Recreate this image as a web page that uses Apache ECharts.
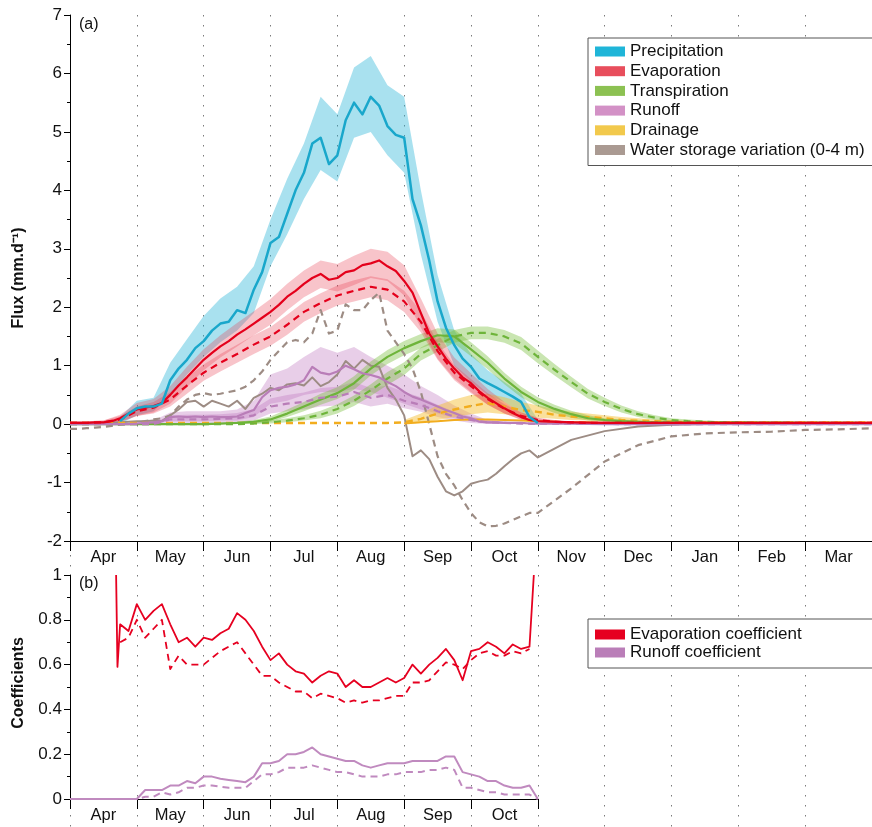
<!DOCTYPE html>
<html><head><meta charset="utf-8">
<script src="https://cdn.jsdelivr.net/npm/echarts@6/dist/echarts.min.js"></script>
<style>html,body{margin:0;padding:0;background:#fff}#c{width:872px;height:827px}</style>
</head><body><div id="c"></div>
<script>
// ---------- categories / labels ----------
const monthLabels = ['Apr','May','Jun','Jul','Aug','Sep','Oct','Nov','Dec','Jan','Feb','Mar'];
const coefMonthLabels = ['Apr','May','Jun','Jul','Aug','Sep','Oct'];
const topLegendNames = ['Precipitation','Evaporation','Transpiration','Runoff','Drainage','Water storage variation (0-4 m)'];
const bottomLegendNames = ['Evaporation coefficient','Runoff coefficient'];

// ---------- x positions (months since 1 April) ----------
const xA = [0,0.125,0.25,0.375,0.5,0.625,0.75,0.875,
 1,1.125,1.25,1.375,1.5,1.625,1.75,1.875,
 2,2.125,2.25,2.375,2.5,2.625,2.75,2.875,
 3,3.125,3.25,3.375,3.5,3.625,3.75,3.875,
 4,4.125,4.25,4.375,4.5,4.625,4.75,4.875,
 5,5.125,5.25,5.375,5.5,5.625,5.75,5.875,
 6,6.125,6.25,6.375,6.5,6.625,6.75,6.875,
 7,7.5,8,8.5,9,9.5,10,10.5,11,11.5,12];
const xB = [0,0.25,0.5,0.75,1,1.25,1.5,1.75,
 2,2.25,2.5,2.75,3,3.25,3.5,3.75,
 4,4.25,4.5,4.75,5,5.25,5.5,5.75,
 6,6.25,6.5,6.75,7,7.25,7.5,7.75,
 8,8.25,8.5,8.75,9,9.25,9.5,9.75,
 10,10.25,10.5,10.75,11,11.25,11.5,11.75,
 12];
const xC = [0.69,0.71,0.75,0.875,
 1,1.125,1.25,1.375,1.5,1.625,1.75,1.875,
 2,2.125,2.25,2.375,2.5,2.625,2.75,2.875,
 3,3.125,3.25,3.375,3.5,3.625,3.75,3.875,
 4,4.125,4.25,4.375,4.5,4.625,4.75,4.875,
 5,5.125,5.25,5.375,5.5,5.625,5.75,5.875,
 6,6.125,6.25,6.375,6.5,6.625,6.75,6.875,
 6.94];
const xR = [0,0.125,0.25,0.375,0.5,0.625,0.75,0.875,
 1,1.125,1.25,1.375,1.5,1.625,1.75,1.875,
 2,2.125,2.25,2.375,2.5,2.625,2.75,2.875,
 3,3.125,3.25,3.375,3.5,3.625,3.75,3.875,
 4,4.125,4.25,4.375,4.5,4.625,4.75,4.875,
 5,5.125,5.25,5.375,5.5,5.625,5.75,5.875,
 6,6.125,6.25,6.375,6.5,6.625,6.75,6.875,
 7];

// ---------- panel (a): fluxes, mm/d ----------
const precipMean = [null,null,null,null,null,null,0.05,0.18,
 0.27,0.3,0.3,0.35,0.75,0.95,1.1,1.3,
 1.42,1.6,1.72,1.75,1.95,1.9,2.3,2.6,
 3.1,3.2,3.6,4.0,4.3,4.8,4.9,4.45,
 4.6,5.2,5.5,5.3,5.6,5.45,5.1,4.95,
 4.9,3.85,3.4,2.8,2.1,1.65,1.35,1.12,
 0.98,0.78,0.7,0.63,0.55,0.47,0.38,0.12,
 0.02,null,null,null,null,null,null,null,null,null,null];
const precipLow = [null,null,null,0,0.15,0.22,0.5,0.85,
 1.15,1.4,1.6,1.9,2.7,3.25,3.85,4.35,
 4.15,4.9,5.0,4.6,4.3,2.9,1.75,1.0,
 0.72,0.5,0.38,0.2,0,null,null,null,
 null,null,null,null,null,null,null,null,
 null,null,null,null,null,null,null,null,null];
const precipHigh = [null,null,null,0.12,0.4,0.45,1.05,1.45,
 1.85,2.15,2.35,2.7,3.5,4.2,4.8,5.6,
 5.3,6.1,6.3,5.8,5.6,4.0,2.55,1.6,
 1.2,0.92,0.72,0.52,0.08,null,null,null,
 null,null,null,null,null,null,null,null,
 null,null,null,null,null,null,null,null,null];

const evapMean = [0.02,0.02,0.02,0.03,0.03,0.05,0.1,0.18,
 0.25,0.28,0.31,0.36,0.5,0.66,0.8,0.95,
 1.1,1.22,1.33,1.42,1.53,1.62,1.72,1.82,
 1.92,2.04,2.18,2.28,2.4,2.5,2.57,2.47,
 2.5,2.6,2.63,2.72,2.75,2.8,2.7,2.62,
 2.45,2.25,1.9,1.55,1.33,1.12,0.95,0.8,
 0.7,0.56,0.45,0.36,0.27,0.19,0.12,0.07,
 0.05,0.03,0.02,0.02,0.02,0.02,0.02,0.02,0.02,0.02,0.02];
const evapLow = [0,0,0,0.04,0.14,0.2,0.35,0.63,
 0.92,1.14,1.33,1.52,1.7,1.95,2.17,2.33,
 2.27,2.38,2.5,2.45,2.2,1.65,1.12,0.78,
 0.55,0.33,0.18,0.07,0.03,0.02,0.01,0.01,
 0.01,0.01,0.01,0.01,0.01,0.01,0.01,0.01,
 0.01,0.01,0.01,0.01,0.01,0.01,0.01,0.01,0.01];
const evapHigh = [0.05,0.05,0.06,0.16,0.36,0.43,0.65,0.98,
 1.28,1.52,1.73,1.93,2.14,2.4,2.63,2.8,
 2.74,2.88,3.0,2.95,2.72,2.15,1.55,1.14,
 0.87,0.6,0.38,0.2,0.1,0.06,0.04,0.03,
 0.03,0.03,0.03,0.03,0.03,0.03,0.03,0.03,
 0.03,0.03,0.03,0.03,0.03,0.03,0.03,0.03,0.03];
const evapScenario = [0.02,0.02,0.03,0.08,0.22,0.28,0.42,0.66,
 0.88,1.05,1.2,1.36,1.5,1.7,1.92,2.07,
 2.2,2.28,2.35,2.3,2.1,1.75,1.25,0.88,
 0.65,0.43,0.26,0.14,0.07,0.04,0.03,0.02,
 0.02,0.02,0.02,0.02,0.02,0.02,0.02,0.02,
 0.02,0.02,0.02,0.02,0.02,0.02,0.02,0.02,0.02];
const evapScenarioLow = [0,0,0,0.03,0.14,0.18,0.3,0.52,
 0.74,0.9,1.05,1.2,1.34,1.53,1.75,1.9,
 2.03,2.1,2.17,2.12,1.92,1.57,1.1,0.75,
 0.53,0.33,0.18,0.08,0.03,0.01,0.01,0.01,
 0.01,0.01,0.01,0.01,0.01,0.01,0.01,0.01,
 0.01,0.01,0.01,0.01,0.01,0.01,0.01,0.01,0.01];
const evapScenarioHigh = [0.05,0.05,0.06,0.14,0.3,0.38,0.55,0.8,
 1.02,1.2,1.36,1.52,1.66,1.87,2.09,2.24,
 2.37,2.46,2.53,2.48,2.28,1.93,1.4,1.01,
 0.77,0.53,0.34,0.2,0.11,0.07,0.05,0.04,
 0.04,0.04,0.04,0.04,0.04,0.04,0.04,0.04,
 0.04,0.04,0.04,0.04,0.04,0.04,0.04,0.04,0.04];

const transpMean = [0,0,0,0,0,0,0,0,
 0,0.01,0.02,0.04,0.08,0.18,0.3,0.42,
 0.53,0.7,0.95,1.15,1.3,1.42,1.52,1.5,
 1.28,1.05,0.78,0.55,0.38,0.26,0.17,0.1,
 0.07,0.05,0.04,0.03,0.03,0.02,0.02,0.02,
 0.02,0.02,0.02,0.02,0.01,0.01,0.01,0.01,0.01];
const transpLow = [0,0,0,0,0,0,0,0,
 0,0,0,0.01,0.04,0.12,0.22,0.33,
 0.43,0.59,0.83,1.03,1.18,1.3,1.4,1.38,
 1.16,0.94,0.68,0.46,0.3,0.19,0.11,0.06,
 0.04,0.03,0.02,0.01,0.01,0.01,0.01,0.01,
 0.01,0.01,0.01,0.01,0,0,0,0,0];
const transpHigh = [0,0,0,0,0,0,0,0,
 0.01,0.02,0.04,0.07,0.13,0.25,0.38,0.52,
 0.63,0.82,1.07,1.27,1.42,1.54,1.64,1.62,
 1.4,1.16,0.88,0.64,0.46,0.33,0.23,0.15,
 0.1,0.08,0.06,0.05,0.05,0.04,0.04,0.04,
 0.04,0.04,0.03,0.03,0.03,0.03,0.03,0.03,0.03];
const transpScenario = [0,0,0,0,0,0,0,0,
 0,0,0,0.01,0.03,0.06,0.1,0.16,
 0.26,0.4,0.58,0.78,0.95,1.2,1.35,1.5,
 1.56,1.56,1.5,1.38,1.15,0.93,0.72,0.52,
 0.38,0.26,0.17,0.11,0.07,0.05,0.04,0.03,
 0.03,0.02,0.02,0.02,0.02,0.02,0.02,0.02,0.01];
const transpScenarioLow = [0,0,0,0,0,0,0,0,
 0,0,0,0,0.01,0.03,0.06,0.1,
 0.18,0.31,0.48,0.67,0.84,1.09,1.24,1.39,
 1.45,1.45,1.39,1.27,1.04,0.83,0.63,0.44,
 0.31,0.2,0.12,0.07,0.04,0.03,0.02,0.01,
 0.01,0.01,0.01,0.01,0.01,0.01,0.01,0.01,0];
const transpScenarioHigh = [0,0,0,0,0,0,0,0,
 0.01,0.01,0.02,0.03,0.06,0.1,0.15,0.23,
 0.34,0.49,0.68,0.89,1.06,1.31,1.46,1.61,
 1.67,1.67,1.61,1.49,1.26,1.03,0.81,0.6,
 0.45,0.32,0.22,0.15,0.1,0.08,0.06,0.05,
 0.05,0.04,0.04,0.04,0.04,0.04,0.03,0.03,0.03];

const runoffMean = [0,0,0,0,0,0,0,0,
 0.01,0.02,0.03,0.05,0.12,0.13,0.12,0.13,
 0.12,0.13,0.12,0.12,0.13,0.19,0.24,0.46,
 0.58,0.62,0.64,0.68,0.75,0.98,0.88,0.85,
 0.9,1.0,0.94,0.87,0.84,0.8,0.72,0.65,
 0.55,0.47,0.42,0.36,0.3,0.24,0.19,0.13,
 0.1,0.04,0.03,0.03,0.02,0.02,0.02,0.01,
 0.01,0.01,0,0,0,0,0,0,0,0,0];
const runoffLow = [0,0,0,0,0,0.01,0.05,0.05,
 0.05,0.06,0.06,0.12,0.35,0.4,0.5,0.55,
 0.55,0.6,0.55,0.45,0.35,0.25,0.18,0.1,
 0.05,0.01,0,0,0,0,0,0,
 0,0,0,0,0,0,0,0,
 0,0,0,0,0,0,0,0,0];
const runoffHigh = [0.02,0.02,0.02,0.02,0.03,0.06,0.2,0.22,
 0.22,0.22,0.25,0.4,0.85,0.95,1.15,1.32,
 1.22,1.32,1.15,1.0,0.85,0.65,0.5,0.32,
 0.18,0.07,0.04,0.02,0.02,0.02,0.02,0.02,
 0.02,0.02,0.02,0.02,0.02,0.02,0.02,0.02,
 0.02,0.02,0.02,0.02,0.02,0.02,0.02,0.02,0.02];
const runoffScenario = [0,0,0,0,0,0,0.08,0.08,
 0.08,0.09,0.1,0.15,0.3,0.35,0.38,0.45,
 0.47,0.55,0.45,0.5,0.4,0.33,0.22,0.13,
 0.07,0.03,0.02,0.01,0.01,0.01,0.01,0.01,
 0.01,0,0,0,0,0,0,0,
 0,0,0,0,0,0,0,0,0];
const runoffScenarioLow = [0,0,0,0,0,0,0.02,0.02,
 0.02,0.02,0.03,0.06,0.18,0.22,0.25,0.3,
 0.32,0.38,0.3,0.35,0.27,0.21,0.12,0.06,
 0.02,0,0,0,0,0,0,0,
 0,0,0,0,0,0,0,0,
 0,0,0,0,0,0,0,0,0];
const runoffScenarioHigh = [0.01,0.01,0.01,0.01,0.01,0.02,0.15,0.16,
 0.16,0.17,0.19,0.26,0.44,0.5,0.54,0.62,
 0.64,0.72,0.62,0.66,0.55,0.46,0.33,0.21,
 0.13,0.07,0.04,0.02,0.02,0.02,0.02,0.02,
 0.02,0.01,0.01,0.01,0.01,0.01,0.01,0.01,
 0.01,0.01,0.01,0.01,0.01,0.01,0.01,0.01,0.01];

const drainageMean = [null,null,null,null,null,null,null,null,
 null,null,null,null,null,null,null,null,
 null,null,null,null,0.01,0.03,0.05,0.07,
 0.08,0.08,0.07,0.06,0.05,0.04,0.03,0.03,
 0.02,0.02,0.02,0.02,0.02,0.02,0.02,0.02,
 0.02,0.02,0.02,0.02,0.02,0.02,0.02,0.02,0.02];
const drainageScenario = [0.02,0.02,0.02,0.02,0.02,0.02,0.02,0.02,
 0.02,0.02,0.02,0.02,0.02,0.02,0.02,0.02,
 0.02,0.02,0.02,0.02,0.03,0.09,0.18,0.25,
 0.31,0.36,0.3,0.24,0.21,0.16,0.13,0.12,
 0.1,0.07,0.06,0.05,0.04,0.03,0.03,0.03,
 0.03,0.03,0.03,0.03,0.03,0.03,0.03,0.03,0.03];
const drainageLow = [null,null,null,null,null,null,null,null,
 null,null,null,null,null,null,null,null,
 null,null,null,null,0,0.02,0.07,0.12,
 0.17,0.2,0.17,0.13,0.11,0.09,0.07,0.06,
 0.05,0.04,0.03,0.03,0.02,0.02,0.02,0.02,
 0.02,0.02,0.02,0.02,0.02,0.02,0.02,0.02,0.02];
const drainageHigh = [null,null,null,null,null,null,null,null,
 null,null,null,null,null,null,null,null,
 null,null,null,null,0.07,0.18,0.32,0.42,
 0.5,0.52,0.46,0.38,0.32,0.26,0.21,0.18,
 0.15,0.12,0.1,0.08,0.07,0.05,0.05,0.05,
 0.05,0.05,0.05,0.05,0.05,0.05,0.05,0.05,0.05];

const storageMean = [0,0,0,0.01,0.02,0.03,0.03,0.04,
 0.05,0.05,0.06,0.05,0.15,0.25,0.38,0.4,
 0.3,0.4,0.35,0.3,0.4,0.26,0.45,0.52,
 0.62,0.58,0.68,0.7,0.66,0.8,0.65,0.72,
 0.85,1.08,0.95,1.1,1.0,0.98,0.62,0.42,
 0.15,-0.55,-0.45,-0.6,-0.9,-1.15,-1.22,-1.15,
 -1.02,-0.98,-0.95,-0.85,-0.72,-0.6,-0.5,-0.45,
 -0.57,-0.27,-0.12,-0.04,-0.01,0,0,0,0,0,0];
const storageScenario = [-0.08,-0.08,-0.07,-0.06,-0.05,-0.03,-0.01,0,
 0.02,0.05,0.08,0.1,0.15,0.3,0.42,0.5,
 0.53,0.5,0.52,0.55,0.58,0.64,0.75,0.9,
 1.1,1.25,1.4,1.44,1.4,1.55,1.95,1.55,
 1.6,2.05,1.95,1.95,2.12,2.25,1.6,1.4,
 1.2,0.95,0.55,0.0,-0.55,-0.85,-1.05,-1.3,
 -1.52,-1.68,-1.75,-1.74,-1.7,-1.64,-1.58,-1.52,
 -1.52,-1.1,-0.64,-0.36,-0.21,-0.16,-0.14,-0.13,-0.1,-0.09,-0.07];

// ---------- panel (b): coefficients ----------
const evapCoef = [1.0,0.59,0.78,0.75,
 0.87,0.8,0.84,0.87,0.78,0.7,0.72,0.68,
 0.72,0.71,0.74,0.76,0.83,0.8,0.75,0.68,
 0.62,0.65,0.6,0.57,0.56,0.52,0.55,0.57,
 0.56,0.5,0.53,0.5,0.5,0.52,0.54,0.52,
 0.54,0.6,0.56,0.6,0.63,0.67,0.62,0.53,
 0.66,0.67,0.7,0.68,0.65,0.69,0.67,0.68,
 1.0];
const evapCoefScenario = [null,null,0.7,0.72,
 0.8,0.72,0.76,0.8,0.58,0.64,0.6,0.6,
 0.6,0.63,0.66,0.68,0.7,0.65,0.6,0.55,
 0.55,0.52,0.5,0.48,0.48,0.45,0.47,0.46,
 0.45,0.43,0.44,0.43,0.44,0.44,0.45,0.46,
 0.46,0.52,0.52,0.53,0.57,0.61,0.6,0.58,
 0.62,0.65,0.66,0.64,0.64,0.66,0.65,0.67,
 null];
const runoffCoef = [0,0,0,0,0,0,0,0,
 0,0.04,0.04,0.04,0.06,0.06,0.08,0.07,
 0.1,0.1,0.09,0.085,0.08,0.075,0.1,0.16,
 0.16,0.17,0.2,0.2,0.21,0.23,0.2,0.19,
 0.18,0.17,0.17,0.15,0.14,0.15,0.16,0.16,
 0.16,0.17,0.17,0.17,0.17,0.19,0.19,0.12,
 0.11,0.1,0.08,0.08,0.06,0.05,0.05,0.06,
 0.0];
const runoffCoefScenario = [0,0,0,0,0,0,0,0,
 0,0.01,0.01,0.03,0.02,0.03,0.05,0.05,
 0.06,0.06,0.055,0.05,0.05,0.05,0.08,0.11,
 0.11,0.12,0.14,0.14,0.14,0.15,0.14,0.13,
 0.12,0.12,0.11,0.1,0.1,0.1,0.11,0.11,
 0.12,0.12,0.12,0.13,0.13,0.14,0.13,0.05,
 0.05,0.04,0.03,0.03,0.02,0.02,0.02,0.02,
 0.0];

// ---------- sanity checks ----------
function chk(n, a, len){ if(a.length!==len) throw new Error(n+' has '+a.length+' expected '+len); }
[['precipMean',precipMean],['evapMean',evapMean],['runoffMean',runoffMean],['storageMean',storageMean],['storageScenario',storageScenario]].forEach(p=>chk(p[0],p[1],xA.length));
[['precipLow',precipLow],['precipHigh',precipHigh],['evapLow',evapLow],['evapHigh',evapHigh],['evapScenario',evapScenario],['evapScenarioLow',evapScenarioLow],['evapScenarioHigh',evapScenarioHigh],
 ['transpMean',transpMean],['transpLow',transpLow],['transpHigh',transpHigh],['transpScenario',transpScenario],['transpScenarioLow',transpScenarioLow],['transpScenarioHigh',transpScenarioHigh],
 ['runoffLow',runoffLow],['runoffHigh',runoffHigh],['runoffScenario',runoffScenario],['runoffScenarioLow',runoffScenarioLow],['runoffScenarioHigh',runoffScenarioHigh],
 ['drainageMean',drainageMean],['drainageScenario',drainageScenario],['drainageLow',drainageLow],['drainageHigh',drainageHigh]].forEach(p=>chk(p[0],p[1],xB.length));
chk('evapCoef',evapCoef,xC.length); chk('evapCoefScenario',evapCoefScenario,xC.length);
chk('runoffCoef',runoffCoef,xR.length); chk('runoffCoefScenario',runoffCoefScenario,xR.length);

// ---------- styling ----------
const FONT = 'Liberation Sans, Arial, Helvetica, sans-serif';
const C = {
  precip:'#19A7CB', precipBand:'rgba(40,180,215,0.40)',
  evap:'#E4001B', evapBand:'rgba(232,60,80,0.30)',
  transp:'#6EB43A', transpBand:'rgba(120,190,60,0.40)',
  runoff:'#B97DB8', runoffBand:'rgba(190,120,190,0.36)',
  drain:'#F2AD1E', drainBand:'rgba(245,190,50,0.48)',
  storage:'#9D8C84'
};
const legendColors = ['#1FB5D8','#E84E5C','#8CC152','#D391C6','#F2C94C','#AA9A92'];
const legendColors2 = ['#E60020','#BA7EB8'];

function line(xs, ys, color, width, dashed, xi, yi, z){
  return { type:'line', xAxisIndex:xi, yAxisIndex:yi, silent:true, z:z||3,
    data: xs.map((x,i)=> [x, ys[i]==null ? '-' : ys[i]]),
    symbol:'none', showSymbol:false, connectNulls:false, animation:false,
    lineStyle:{color:color, width:width, type: dashed ? [7,5] : 'solid', cap:'butt', join:'round'},
    itemStyle:{color:color} };
}
function band(xs, lo, hi, color, xi, yi){
  return { type:'custom', xAxisIndex:xi, yAxisIndex:yi, silent:true, z:1, animation:false,
    data:[[xs[0], 0]],
    renderItem:function(params, api){
      const children=[]; let up=[], dn=[];
      const flush=()=>{ if(up.length>1){ children.push({type:'polygon', shape:{points: up.concat(dn.reverse())}, style:{fill:color}}); } up=[]; dn=[]; };
      for(let i=0;i<xs.length;i++){
        if(lo[i]==null||hi[i]==null){ flush(); continue; }
        up.push(api.coord([xs[i], hi[i]])); dn.push(api.coord([xs[i], lo[i]]));
      }
      flush();
      return {type:'group', children:children};
    } };
}
function dummy(name, color, xi, yi){
  return { name:name, type:'line', xAxisIndex:xi, yAxisIndex:yi, data:[], itemStyle:{color:color}, lineStyle:{color:color} };
}

const series = [
  band(xB, precipLow, precipHigh, C.precipBand, 0, 0),
  band(xB, runoffLow, runoffHigh, C.runoffBand, 0, 0),
  band(xB, runoffScenarioLow, runoffScenarioHigh, C.runoffBand, 0, 0),
  band(xB, drainageLow, drainageHigh, C.drainBand, 0, 0),
  band(xB, transpLow, transpHigh, C.transpBand, 0, 0),
  band(xB, transpScenarioLow, transpScenarioHigh, C.transpBand, 0, 0),
  band(xB, evapLow, evapHigh, C.evapBand, 0, 0),
  band(xB, evapScenarioLow, evapScenarioHigh, C.evapBand, 0, 0),
  line(xA, storageScenario, C.storage, 2.2, true, 0, 0),
  line(xA, storageMean, C.storage, 2, false, 0, 0),
  line(xB, drainageMean, C.drain, 2, false, 0, 0),
  line(xB, drainageScenario, C.drain, 2.4, true, 0, 0),
  line(xB, transpScenario, C.transp, 2.2, true, 0, 0),
  line(xB, transpMean, C.transp, 2.2, false, 0, 0),
  line(xB, runoffScenario, C.runoff, 2.2, true, 0, 0),
  line(xA, runoffMean, C.runoff, 2.2, false, 0, 0),
  line(xB, evapScenario, C.evap, 2.2, true, 0, 0),
  line(xA, evapMean, C.evap, 2.2, false, 0, 0),
  line(xA, precipMean, C.precip, 2.5, false, 0, 0),
  line(xC, evapCoef, '#E60020', 1.8, false, 2, 1),
  line(xC, evapCoefScenario, '#E60020', 1.8, true, 2, 1),
  line(xR, runoffCoef, '#C08ABF', 2, false, 2, 1),
  line(xR, runoffCoefScenario, '#C08ABF', 2, true, 2, 1)
];
topLegendNames.forEach((n,i)=>series.push(dummy(n, legendColors[i], 0, 0)));
bottomLegendNames.forEach((n,i)=>series.push(dummy(n, legendColors2[i], 2, 1)));

const dotted = {show:true, lineStyle:{color:'#7a7a7a', width:1, type:[1.5,8.5]}};
const hiddenAxisParts = {axisLine:{show:false}, axisTick:{show:false}, axisLabel:{show:false}};
function catAxis(grid, data){
  return { gridIndex:grid, type:'category', position:'bottom', data:data, boundaryGap:true,
    axisLine:{show:true, onZero:false, lineStyle:{color:'#000', width:1}},
    axisTick:{show:true, interval:0, length:10, lineStyle:{color:'#000', width:1}},
    axisLabel:{show:true, interval:0, fontSize:16.5, color:'#111', margin:8, fontFamily:FONT},
    splitLine:{show:false} };
}
function valY(grid, min, max, interval){
  return { gridIndex:grid, type:'value', min:min, max:max, interval:interval,
    axisLine:{show:true, onZero:false, lineStyle:{color:'#000', width:1}},
    axisTick:{show:true, length:6, lineStyle:{color:'#000'}},
    minorTick:{show:true, splitNumber:2, length:3, lineStyle:{color:'#000'}},
    axisLabel:{fontSize:17, color:'#111', margin:8, fontFamily:FONT},
    splitLine:{show:false} };
}

const option = {
  animation:false,
  backgroundColor:'#fff',
  grid:[
    {left:70, top:15, width:802, height:526},
    {left:70, top:575, width:802, height:224},
    {left:70, top:575, width:468, height:224},
    {left:70, top:15, width:802, height:812}
  ],
  xAxis:[
    Object.assign({gridIndex:0, type:'value', min:0, max:12, interval:1, splitLine:{show:false}}, hiddenAxisParts),
    catAxis(0, monthLabels),
    Object.assign({gridIndex:1, type:'value', min:0, max:12, interval:1, splitLine:{show:false}}, hiddenAxisParts),
    catAxis(2, coefMonthLabels),
    Object.assign({gridIndex:3, type:'value', min:0, max:12, interval:1, splitLine:dotted}, hiddenAxisParts)
  ],
  yAxis:[
    valY(0, -2, 7, 1),
    valY(1, 0, 1, 0.2),
    Object.assign({gridIndex:2, type:'value', min:0, max:1, splitLine:{show:false}}, hiddenAxisParts),
    Object.assign({gridIndex:3, type:'value', min:0, max:1, splitLine:{show:false}}, hiddenAxisParts)
  ],
  legend:[
    { data:topLegendNames, orient:'vertical', left:588, top:38, icon:'rect', itemWidth:30, itemHeight:10, itemGap:2.7,
      padding:[5,12,7,7], borderColor:'#555', borderWidth:1, backgroundColor:'#fff', selectedMode:false,
      textStyle:{fontSize:17, color:'#111', lineHeight:15, fontFamily:FONT} },
    { data:bottomLegendNames, orient:'vertical', left:588, top:619, icon:'rect', itemWidth:30, itemHeight:10, itemGap:1,
      padding:[7,80,7,7], borderColor:'#555', borderWidth:1, backgroundColor:'#fff', selectedMode:false,
      textStyle:{fontSize:17, color:'#111', lineHeight:15, fontFamily:FONT} }
  ],
  graphic:[
    {type:'text', left:79, top:17, style:{text:'(a)', fontSize:16, fill:'#111', fontFamily:FONT}},
    {type:'text', left:79, top:576, style:{text:'(b)', fontSize:16, fill:'#111', fontFamily:FONT}},
    {type:'text', x:19, y:278, rotation:Math.PI/2, style:{text:'Flux (mm.d⁻¹)', fontSize:16, fontWeight:'bold', fill:'#111', fontFamily:FONT, align:'center', verticalAlign:'middle'}},
    {type:'text', x:19, y:683, rotation:Math.PI/2, style:{text:'Coefficients', fontSize:16, fontWeight:'bold', fill:'#111', fontFamily:FONT, align:'center', verticalAlign:'middle'}}
  ],
  series:series
};
const chart = echarts.init(document.getElementById('c'), null, {renderer:'canvas'});
chart.setOption(option);
</script>
</body></html>
